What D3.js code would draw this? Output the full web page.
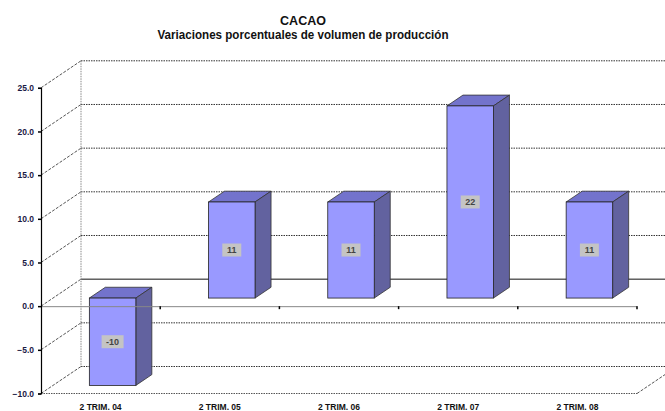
<!DOCTYPE html>
<html>
<head>
<meta charset="utf-8">
<script src="https://cdn.jsdelivr.net/npm/d3@7"></script>
<style>
  body { margin: 0; background: #fff; }
  text { font-family: "Liberation Sans", Arial, sans-serif; }
</style>
</head>
<body>
<svg width="665" height="411"></svg>
<script>
const categories = ['2 TRIM. 04', '2 TRIM. 05', '2 TRIM. 06', '2 TRIM. 07', '2 TRIM. 08'];
const values = [-10, 11, 11, 22, 11];
const yTicks = [-10, -5, 0, 5, 10, 15, 20, 25];

const svg = d3.select('svg');

// depth of the 3d box and of the bars
const depth = { dx: 40, dy: -27 };
const barShift = 0.3;
const barDepth = 0.4;

const xScale = d3.scaleBand()
    .domain(categories)
    .range([41, 637]);

const yScale = d3.scaleLinear()
    .domain([-10, 25])
    .range([393.5, 87.8]);

// title
svg.append('text')
    .attr('x', 303).attr('y', 25)
    .attr('text-anchor', 'middle')
    .attr('font-size', 12.5).attr('font-weight', 'bold').attr('fill', '#111')
    .text('CACAO');
svg.append('text')
    .attr('x', 303).attr('y', 39)
    .attr('text-anchor', 'middle')
    .attr('font-size', 12.5).attr('font-weight', 'bold').attr('fill', '#111')
    .attr('textLength', 291).attr('lengthAdjust', 'spacingAndGlyphs')
    .text('Variaciones porcentuales de volumen de producción');

const x0 = xScale.range()[0];
const x1 = xScale.range()[1];

// back wall grid lines
const grid = svg.append('g');
grid.selectAll('line.back').data(yTicks).enter()
    .append('line')
    .attr('x1', x0 + depth.dx)
    .attr('x2', x1 + depth.dx)
    .attr('y1', d => yScale(d) + depth.dy)
    .attr('y2', d => yScale(d) + depth.dy)
    .attr('stroke', d => d === 0 ? '#111' : '#333')
    .attr('stroke-dasharray', d => d === 0 ? null : '1.5,1')
    .attr('stroke-width', 1);

// side wall diagonals
grid.selectAll('line.diag').data(yTicks).enter()
    .append('line')
    .attr('x1', x0)
    .attr('x2', x0 + depth.dx)
    .attr('y1', d => yScale(d))
    .attr('y2', d => yScale(d) + depth.dy)
    .attr('stroke', '#555')
    .attr('stroke-dasharray', '3,1.5');

// back wall left edge
grid.append('line')
    .attr('x1', x0 + depth.dx).attr('x2', x0 + depth.dx)
    .attr('y1', yScale(25) + depth.dy).attr('y2', yScale(-10) + depth.dy)
    .attr('stroke', '#888').attr('stroke-dasharray', '1.5,1');

// floor front edge and right diagonal
grid.append('line')
    .attr('x1', x0).attr('x2', x1)
    .attr('y1', yScale(-10)).attr('y2', yScale(-10))
    .attr('stroke', '#555').attr('stroke-dasharray', '1.5,1');
grid.append('line')
    .attr('x1', x1).attr('x2', x1 + depth.dx)
    .attr('y1', yScale(-10)).attr('y2', yScale(-10) + depth.dy)
    .attr('stroke', '#555').attr('stroke-dasharray', '3,1.5');

// bars
const bw = xScale.bandwidth() * 0.39;
const bdx = depth.dx * barDepth;
const bdy = depth.dy * barDepth;
const sdx = depth.dx * barShift;
const sdy = depth.dy * barShift;

const bars = svg.append('g').selectAll('g').data(values).enter().append('g');

const bx = (d, i) => xScale(categories[i]) + xScale.bandwidth() / 2 + sdx - bw / 2;
const barTop = d => yScale(Math.max(d, 0)) + sdy;
const barBot = d => yScale(Math.min(d, 0)) + sdy;

bars.append('polygon')
    .attr('points', (d, i) => {
        const a = bx(d, i), t = barTop(d);
        return [[a, t], [a + bw, t], [a + bw + bdx, t + bdy], [a + bdx, t + bdy]].join(' ');
    })
    .attr('fill', '#7373cc').attr('stroke', '#333').attr('stroke-width', 0.8);

bars.append('polygon')
    .attr('points', (d, i) => {
        const a = bx(d, i) + bw, t = barTop(d), b = barBot(d);
        return [[a, t], [a + bdx, t + bdy], [a + bdx, b + bdy], [a, b]].join(' ');
    })
    .attr('fill', '#62629f').attr('stroke', '#333').attr('stroke-width', 0.8);

bars.append('rect')
    .attr('x', (d, i) => bx(d, i))
    .attr('y', d => barTop(d))
    .attr('width', bw)
    .attr('height', d => barBot(d) - barTop(d))
    .attr('fill', '#9999ff').attr('stroke', '#222').attr('stroke-width', 0.8);

// value labels
const lab = bars.append('g')
    .attr('transform', (d, i) => `translate(${bx(d, i) + bw / 2},${(barTop(d) + barBot(d)) / 2})`);
lab.append('rect')
    .attr('x', d => d < 0 ? -11 : -9.5).attr('y', -6.5)
    .attr('width', d => d < 0 ? 22 : 19).attr('height', 13)
    .attr('fill', '#c4c4c4');
lab.append('text')
    .attr('text-anchor', 'middle').attr('dy', '0.35em')
    .attr('font-size', 9).attr('font-weight', 'bold').attr('fill', '#444')
    .text(d => d);

// category axis at zero
const xAxis = d3.axisBottom(xScale).tickSize(0).tickFormat('');
const xg = svg.append('g')
    .attr('transform', `translate(0,${yScale(0)})`)
    .call(xAxis);
xg.select('.domain').attr('stroke', '#888');
xg.selectAll('.tick').remove();
xg.selectAll('line.sep').data(categories).enter()
    .append('line')
    .attr('x1', d => xScale(d) + xScale.bandwidth())
    .attr('x2', d => xScale(d) + xScale.bandwidth())
    .attr('y1', 0).attr('y2', 3)
    .attr('stroke', '#000').attr('stroke-width', 1.5);

// category labels
svg.append('g').selectAll('text').data(categories).enter()
    .append('text')
    .attr('x', d => xScale(d) + xScale.bandwidth() / 2)
    .attr('y', 410)
    .attr('text-anchor', 'middle')
    .attr('font-size', 8.5).attr('font-weight', 'bold').attr('fill', '#111')
    .text(d => d);

// value axis
const yAxis = d3.axisLeft(yScale)
    .tickValues(yTicks)
    .tickSize(3)
    .tickFormat(d3.format('.1f'));
const yg = svg.append('g')
    .attr('transform', `translate(${x0},0)`)
    .call(yAxis);
yg.select('.domain').attr('stroke', '#000').attr('stroke-width', 1.2);
yg.selectAll('.tick line').attr('stroke', '#000').attr('stroke-width', 1.5);
yg.selectAll('.tick text')
    .attr('font-family', '"Liberation Sans", Arial, sans-serif')
    .attr('font-size', 8.5).attr('font-weight', 'bold').attr('fill', '#1a1a44')
    .attr('x', -7);
</script>
</body>
</html>
